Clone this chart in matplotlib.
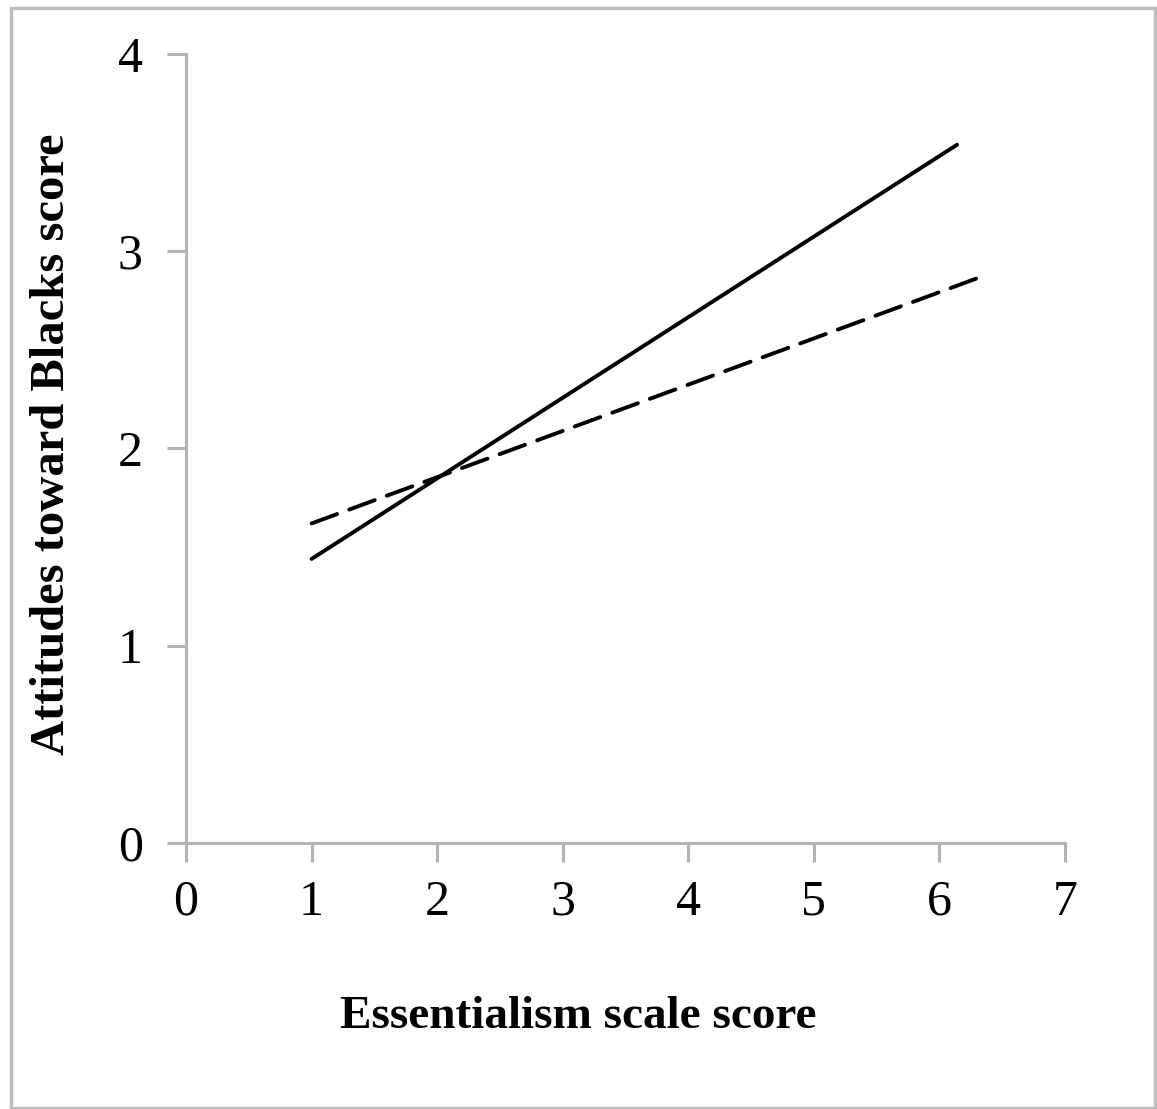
import matplotlib
matplotlib.use("Agg")
import matplotlib.pyplot as plt
from matplotlib.patches import Rectangle

# regression lines (endpoints)
solid_x = [1.0, 6.14]
solid_y = [1.44, 3.54]
dashed_x = [1.0, 6.33]
dashed_y = [1.62, 2.87]

x_ticks = [0, 1, 2, 3, 4, 5, 6, 7]
y_ticks = [0, 1, 2, 3, 4]

plt.rcParams['font.family'] = ['Liberation Serif', 'DejaVu Serif']

fig = plt.figure(figsize=(11.57, 11.09), dpi=100)
ax = fig.add_axes([0.1608, 0.2399, 0.7597, 0.7114])

ax.plot(solid_x, solid_y, color='black', lw=2.8, solid_capstyle='round')
ax.plot(dashed_x, dashed_y, color='black', lw=2.8, dashes=(7.0, 3.3), dash_capstyle='round')

ax.set_xlim(0, 7)
ax.set_ylim(0, 4)
ax.set_xticks(x_ticks)
ax.set_yticks(y_ticks)
for s in ['top', 'right']:
    ax.spines[s].set_visible(False)
for s in ['left', 'bottom']:
    ax.spines[s].set_color('#b3b3b3')
    ax.spines[s].set_linewidth(2.2)
ax.tick_params(colors='#b3b3b3', width=2.2, length=14, direction='out', labelsize=36,
               labelcolor='black')
ax.tick_params(axis='x', pad=12)
ax.tick_params(axis='y', pad=17)

ax.set_xlabel('Essentialism scale score', fontsize=34, fontweight='bold')
ax.xaxis.set_label_coords(0.446, -0.194)
ax.set_ylabel('Attitudes toward Blacks score', fontsize=35, fontweight='bold')
ax.yaxis.set_label_coords(-0.128, 0.505)

# outer frame
fig.patches.append(Rectangle((11 / 1157, 1 / 1109), 1144 / 1157, 1100 / 1109,
                             transform=fig.transFigure, fill=False,
                             edgecolor='#bdbdbd', lw=2.5))

fig.savefig('out.png', dpi=100, facecolor='white')
